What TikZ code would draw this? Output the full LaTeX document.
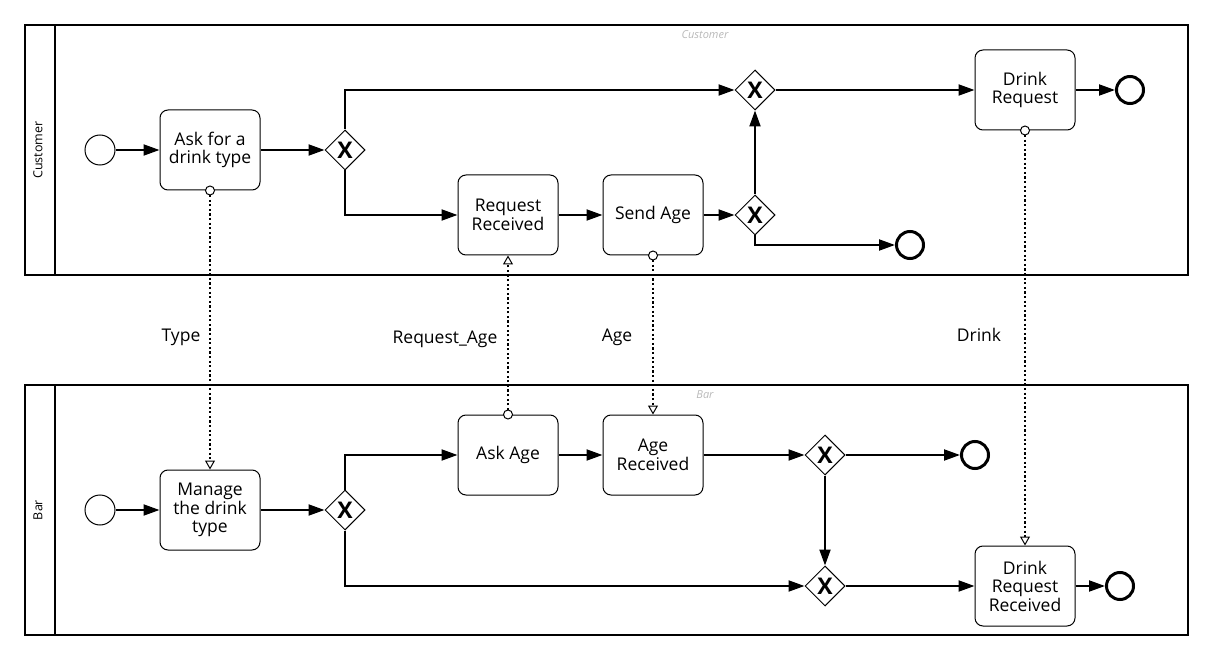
\documentclass[tikz,border=0pt]{standalone}
\usepackage{fontspec}
\setmainfont{Open Sans}
\usetikzlibrary{
    arrows.meta,
    shapes.geometric,
    positioning
}
\definecolor{poolgray}{RGB}{185,185,185}
\tikzset{
    task/.style={draw, rounded corners=8pt, line width=1pt, minimum width=100pt, minimum height=80pt,
        inner sep=2pt, align=center, font=\fontsize{17.5}{18.5}\selectfont},
    gate/.style={draw, diamond, line width=1pt, minimum width=40pt, minimum height=40pt, inner sep=0pt,
        font=\fontsize{23}{23}\selectfont\bfseries},
    startev/.style={draw, circle, line width=1pt, minimum size=30pt, inner sep=0pt},
    endev/.style={draw, circle, line width=3pt, minimum size=27pt, inner sep=0pt},
    seqflow/.style={line width=2pt, -{Triangle[length=16pt, width=11pt]}},
    msgflow/.style={line width=2.2pt, dash pattern=on 2.2pt off 2.4pt, shorten <=-5pt,
        {Circle[length=10pt, width=10pt, fill=white, line width=1pt]}-{Triangle[length=9pt, width=10pt, fill=white, line width=1pt]}},
    msglabel/.style={font=\fontsize{17.5}{20}\selectfont},
    pool/.style={line width=1.3pt},
    poolname/.style={rotate=90, font=\fontsize{12.5}{14}\selectfont},
    lanetag/.style={text=poolgray, font=\fontsize{11}{13}\selectfont\itshape}
}

\begin{document}
\begin{tikzpicture}[x=1pt, y=-1pt]
    \useasboundingbox (0, 0) rectangle (1213, 660);

    % pools
    \draw[pool] (25, 25) rectangle (1188, 275);
    \draw[pool] (55, 25) -- (55, 275);
    \draw[pool] (25, 385) rectangle (1188, 635);
    \draw[pool] (55, 385) -- (55, 635);
    \node[poolname] (custname) at (38, 150) {Customer};
    \node[poolname] (barname) at (38, 510) {Bar};
    \node[lanetag] (custtag) at (705, 35) {Customer};
    \node[lanetag] (bartag) at (705, 395) {Bar};

    % customer
    \node[startev] (cstart) at (100, 150) {};
    \node[task] (askdrink) at (210, 150) {Ask for a\\drink type};
    \node[gate] (cgate1) at (345, 150) {X};
    \node[gate] (cgate2) at (755, 90) {X};
    \node[task] (reqrec) at (508, 215) {Request\\Received};
    \node[task] (sendage) at (653, 215) {Send Age};
    \node[gate] (cgate3) at (755, 215) {X};
    \node[task] (drinkreq) at (1025, 90) {Drink\\Request};
    \node[endev] (cend1) at (1130, 90) {};
    \node[endev] (cend2) at (910, 245) {};

    \draw[seqflow] (cstart) -- (askdrink);
    \draw[seqflow] (askdrink) -- (cgate1);
    \draw[seqflow] (cgate1.north) |- (cgate2.west);
    \draw[seqflow] (cgate1.south) |- (reqrec.west);
    \draw[seqflow] (reqrec) -- (sendage);
    \draw[seqflow] (sendage) -- (cgate3);
    \draw[seqflow] (cgate3.north) -- (cgate2.south);
    \draw[seqflow] (cgate3.south) |- (cend2.west);
    \draw[seqflow] (cgate2) -- (drinkreq);
    \draw[seqflow] (drinkreq) -- (cend1);

    % bar
    \node[startev] (bstart) at (100, 510) {};
    \node[task] (manage) at (210, 510) {Manage\\the drink\\type};
    \node[gate] (bgate1) at (345, 510) {X};
    \node[task] (askage) at (508, 455) {Ask Age};
    \node[task] (agerec) at (653, 455) {Age\\Received};
    \node[gate] (bgate2) at (825, 455) {X};
    \node[endev] (bend1) at (975, 455) {};
    \node[gate] (bgate3) at (825, 586) {X};
    \node[task] (drinkrec) at (1025, 586) {Drink\\Request\\Received};
    \node[endev] (bend2) at (1120, 586) {};

    \draw[seqflow] (bstart) -- (manage);
    \draw[seqflow] (manage) -- (bgate1);
    \draw[seqflow] (bgate1.north) |- (askage.west);
    \draw[seqflow] (bgate1.south) |- (bgate3.west);
    \draw[seqflow] (askage) -- (agerec);
    \draw[seqflow] (agerec) -- (bgate2);
    \draw[seqflow] (bgate2) -- (bend1);
    \draw[seqflow] (bgate2) -- (bgate3);
    \draw[seqflow] (bgate3) -- (drinkrec);
    \draw[seqflow] (drinkrec) -- (bend2);

    % messages
    \draw[msgflow] (askdrink.south) -- (manage.north);
    \draw[msgflow] (askage.north) -- (reqrec.south);
    \draw[msgflow] (sendage.south) -- (agerec.north);
    \draw[msgflow] (drinkreq.south) -- (drinkrec.north);
    \node[msglabel] (typelbl) at (181, 337) {Type};
    \node[msglabel] (reqagelbl) at (445, 339) {Request\_Age};
    \node[msglabel] (agelbl) at (617, 337) {Age};
    \node[msglabel] (drinklbl) at (979, 335) {Drink};
\end{tikzpicture}
\end{document}
